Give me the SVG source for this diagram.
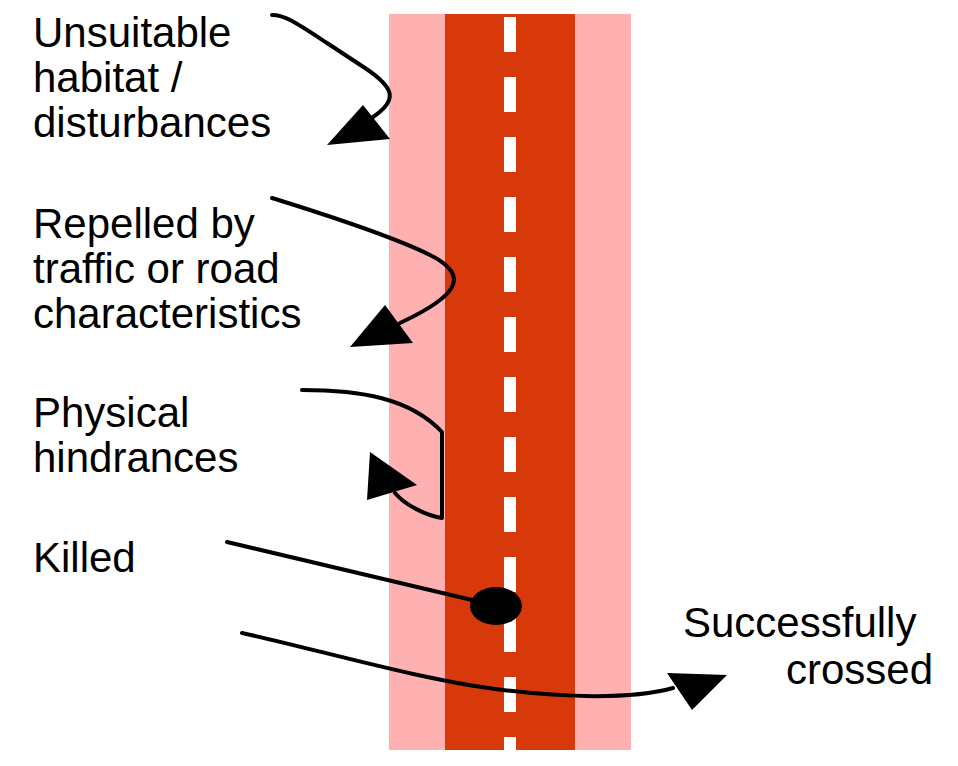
<svg xmlns="http://www.w3.org/2000/svg" width="958" height="766" viewBox="0 0 958 766">
<style>
text{font-family:"Liberation Sans",Arial,sans-serif;font-size:42px;fill:#000}
.ln{fill:none;stroke:#000;stroke-width:4;stroke-linecap:round;stroke-linejoin:round}
.hd{fill:#000}
</style>
<rect width="958" height="766" fill="#fff"/>
<g id="road">
<rect x="389" y="14" width="242" height="736" fill="#FFB0B0"/>
<rect x="445" y="14" width="130" height="736" fill="#D7390B"/>
<line x1="510" y1="17" x2="510" y2="750" stroke="#fff" stroke-width="12" stroke-dasharray="35 25"/>
</g>
<g id="label-unsuitable"><text x="33" y="47">Unsuitable</text><text x="33" y="92">habitat /</text><text x="33" y="137">disturbances</text></g>
<g id="label-repelled"><text x="33" y="238">Repelled by</text><text x="33" y="283">traffic or road</text><text x="33" y="328">characteristics</text></g>
<g id="label-physical"><text x="33" y="427">Physical</text><text x="33" y="472">hindrances</text></g>
<g id="label-killed"><text x="33" y="572">Killed</text></g>
<g id="label-crossed"><text x="683" y="637">Successfully</text><text x="786" y="684">crossed</text></g>
<g id="connectors">
<path class="ln" d="M272,15 C285,15 295,22 327,43 L365,68 C395,88 398,100 373,117"/>
<polygon class="hd" points="363,105 390,139 327,145"/>
<path class="ln" d="M272,198 C330,216 400,240 430,255 C470,275 460,295 400,323"/>
<polygon class="hd" points="385,305 413,343 350,347"/>
<path class="ln" d="M302,390 C360,390 410,398 442,432 L442,518 C425,515 405,505 395,493"/>
<polygon class="hd" points="370,452 417,485 367,500"/>
<path class="ln" d="M227,542 L472,600"/>
<ellipse cx="496" cy="606" rx="26" ry="19" fill="#000"/>
<path class="ln" d="M242,633 C320,650 420,680 503,690 C560,697 630,700 673,688"/>
<polygon class="hd" points="667,673 727,675 692,710"/>
</g>
</svg>
